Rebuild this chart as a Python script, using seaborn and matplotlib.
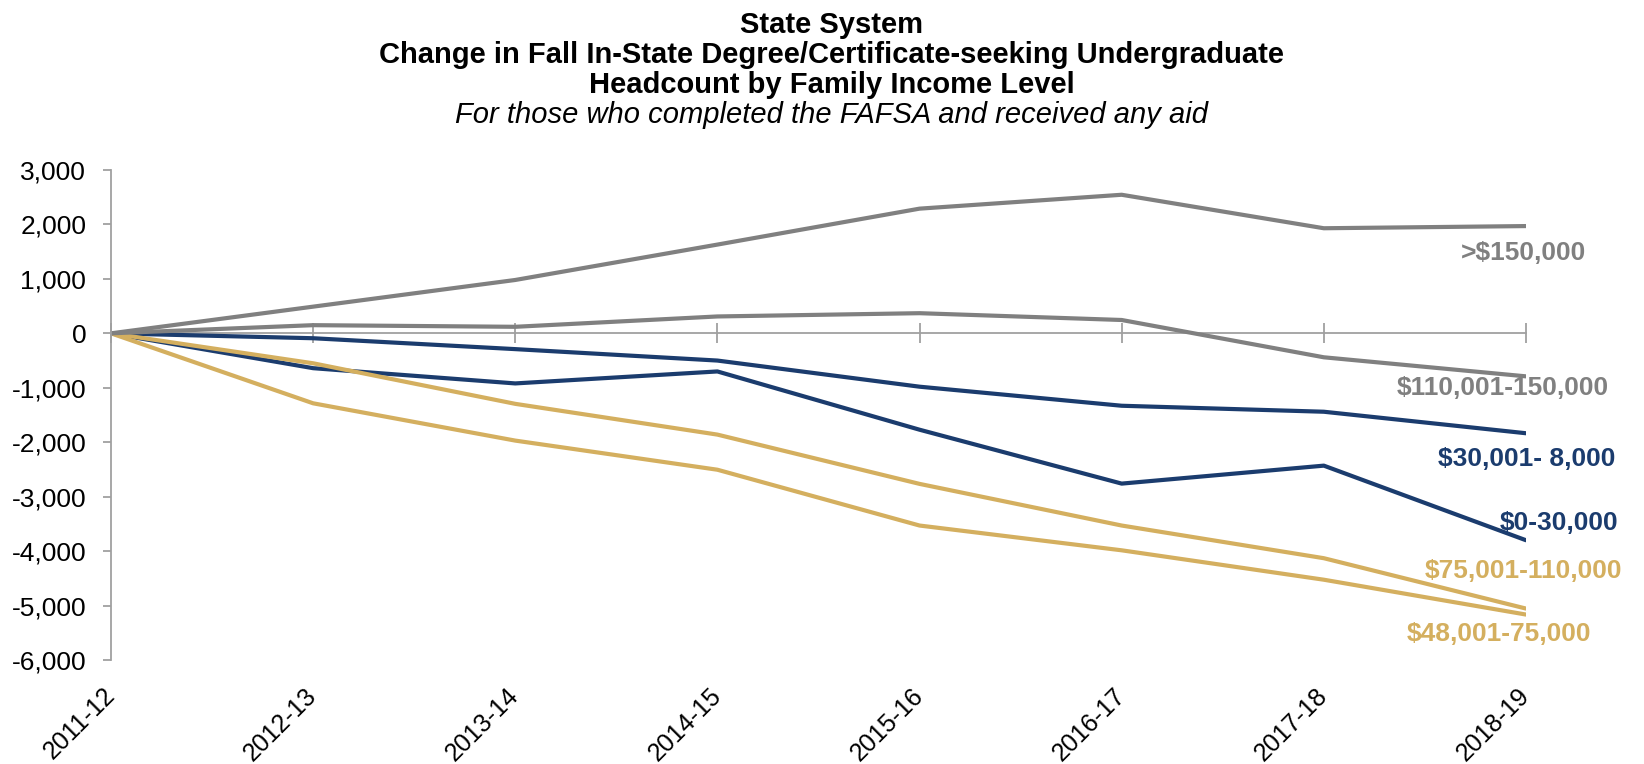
import matplotlib
matplotlib.use("Agg")
import matplotlib.pyplot as plt
import matplotlib.ticker as mticker
import seaborn as sns
import pandas as pd

years = ["2011-12", "2012-13", "2013-14", "2014-15", "2015-16", "2016-17", "2017-18", "2018-19"]

inc_0_30 = [0, -640, -920, -700, -1770, -2760, -2430, -3800]
inc_30_48 = [0, -90, -290, -500, -980, -1330, -1440, -1835]
inc_48_75 = [0, -1285, -1970, -2505, -3530, -3985, -4525, -5165]
inc_75_110 = [0, -550, -1295, -1860, -2765, -3530, -4130, -5055]
inc_110_150 = [0, 150, 120, 310, 370, 245, -440, -790]
inc_150 = [0, 490, 980, 1630, 2290, 2545, 1930, 1970]

series_names = ["$0-30,000", "$30,001- 8,000", "$48,001-75,000",
                "$75,001-110,000", "$110,001-150,000", ">$150,000"]
series_values = [inc_0_30, inc_30_48, inc_48_75, inc_75_110, inc_110_150, inc_150]

BLUE = "#1B3C6E"
GOLD = "#D4AF5F"
GRAY = "#808080"
palette = {
    "$0-30,000": BLUE,
    "$30,001- 8,000": BLUE,
    "$48,001-75,000": GOLD,
    "$75,001-110,000": GOLD,
    "$110,001-150,000": GRAY,
    ">$150,000": GRAY,
}

# label positions (x in category index, y in data units)
label_pos = {
    ">$150,000": (6.99, 1475),
    "$110,001-150,000": (6.885, -1009),
    "$30,001- 8,000": (7.004, -2305),
    "$0-30,000": (7.163, -3486),
    "$75,001-110,000": (6.987, -4367),
    "$48,001-75,000": (6.867, -5528),
}

rows = []
for name, vals in zip(series_names, series_values):
    for i, v in enumerate(vals):
        rows.append({"xi": i, "year": years[i], "value": v, "series": name})
df = pd.DataFrame(rows)

sns.set_theme(style="white")
plt.rcParams["font.family"] = ["Liberation Sans", "DejaVu Sans"]
plt.rcParams["text.color"] = "black"

fig = plt.figure(figsize=(16.44, 7.64), dpi=100)
ax = fig.add_axes([0.0675, 0.1361, 0.8607, 0.6414])

sns.lineplot(data=df, x="xi", y="value", hue="series", hue_order=series_names,
             palette=palette, legend=False, linewidth=3.0, sort=False, ax=ax)

ax.set_xlim(0, 7)
ax.set_ylim(-6000, 3000)
ax.set_xlabel("")
ax.set_ylabel("")

axis_col = "#A0A0A0"
for s in ["top", "right"]:
    ax.spines[s].set_visible(False)
ax.spines["left"].set_color(axis_col)
ax.spines["left"].set_linewidth(1.3)
ax.spines["bottom"].set_position(("data", 0))
ax.spines["bottom"].set_color(axis_col)
ax.spines["bottom"].set_linewidth(1.3)
ax.spines["bottom"].set_zorder(0.5)

ax.set_yticks(range(-6000, 3001, 1000))
ax.yaxis.set_major_formatter(mticker.FuncFormatter(lambda v, p: f"{v:,.0f}"))
ax.tick_params(axis="y", direction="out", length=5.8, width=1.3, color=axis_col,
               labelsize=19, labelcolor="black", pad=12, left=True)

ax.set_xticks(range(len(years)))
ax.tick_params(axis="x", direction="inout", length=14, width=1.3, color=axis_col,
               labelbottom=False, bottom=True)

sec = ax.secondary_xaxis("bottom")
sec.set_xticks(range(len(years)), labels=years)
sec.spines["bottom"].set_visible(False)
sec.tick_params(axis="x", length=0, pad=23, labelsize=18, labelcolor="black")
for lab in sec.get_xticklabels():
    lab.set_rotation(45)
    lab.set_ha("right")
    lab.set_va("center")
    lab.set_rotation_mode("anchor")

for name in series_names:
    x, y = label_pos[name]
    ax.text(x, y, name, color=palette[name], fontsize=19, fontweight="bold",
            ha="center", va="center", clip_on=False)

TX = 0.506
fig.text(TX, 0.967, "State System", ha="center", va="center",
         fontsize=21, fontweight="bold", color="black")
fig.text(TX, 0.928, "Change in Fall In-State Degree/Certificate-seeking Undergraduate",
         ha="center", va="center", fontsize=21, fontweight="bold", color="black")
fig.text(TX, 0.889, "Headcount by Family Income Level", ha="center", va="center",
         fontsize=21, fontweight="bold", color="black")
fig.text(TX, 0.849, "For those who completed the FAFSA and received any aid",
         ha="center", va="center", fontsize=21, style="italic", color="black")

fig.savefig("out.png", dpi=100)
